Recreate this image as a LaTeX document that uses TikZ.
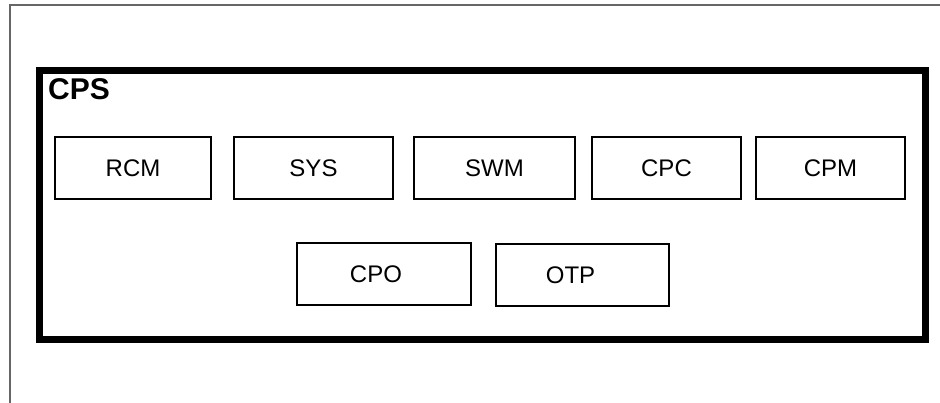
\documentclass[tikz,border=0pt]{standalone}
\usepackage{fontspec}
\setmainfont{Liberation Sans}
\begin{document}
\begin{tikzpicture}[x=1pt,y=-1pt,line join=miter,
	modbox/.style={draw,line width=1.3pt,inner sep=0pt,minimum height=62pt,font=\fontsize{24}{26}\selectfont}]
	\useasboundingbox (0,0) rectangle (940,403);
	% outer frame
	\draw[gray!80!black,line width=1.5pt] (10,403)--(10,5)--(940,5);
	% CPS block
	\draw[line width=7pt] (39,71) rectangle (925,340);
	\node[anchor=base west,inner sep=0pt,font=\fontsize{30}{32}\selectfont\bfseries] (cps) at (48,100) {CPS};
	\foreach \name/\cx/\w in {RCM/133/156,SYS/313.5/159,SWM/494.5/161,CPC/666.5/149,CPM/830.5/149}{
		\node[modbox,minimum width=\w pt] (\name) at (\cx,168) {\name};}
	\node[modbox,minimum width=174pt] (CPO) at (384,274) {\hspace*{-16pt}CPO};
	\node[modbox,minimum width=173pt] (OTP) at (582.5,275) {\hspace*{-24pt}OTP};
\end{tikzpicture}
\end{document}
